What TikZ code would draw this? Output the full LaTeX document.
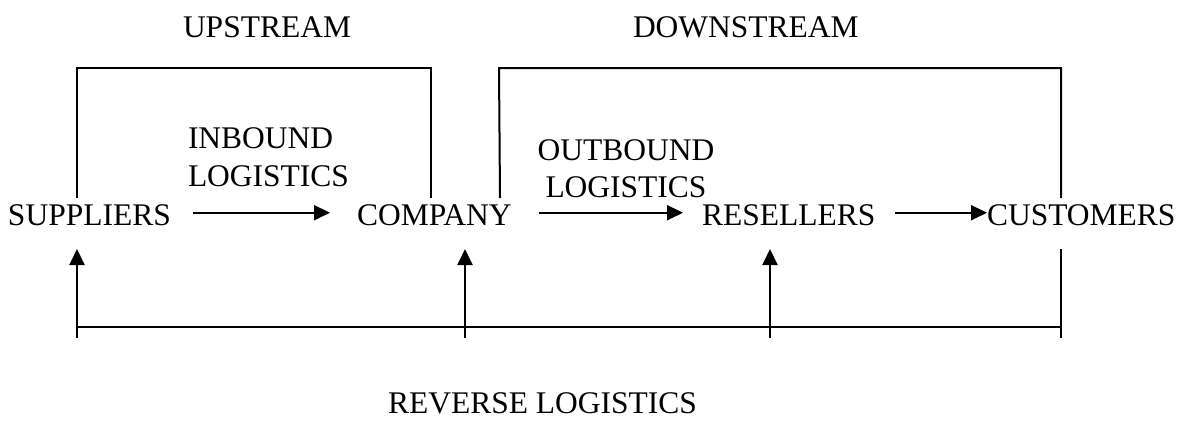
\documentclass[tikz,border=0pt]{standalone}
\usepackage{fontspec}
\setmainfont{Liberation Serif}
\usetikzlibrary{arrows.meta}
\begin{document}
\begin{tikzpicture}[x=1pt,y=-1pt,
  lbl/.style={inner sep=0pt,outer sep=0pt,font=\fontsize{31.5}{37}\selectfont},
  frame/.style={line width=2pt},
  flow/.style={line width=2pt,-{Triangle[length=16pt,width=15pt]}}]
\useasboundingbox (0,0) rectangle (1181,421);

% headings
\node[lbl,anchor=base west] (up) at (183,37) {UPSTREAM};
\node[lbl,anchor=base west] (down) at (633,37) {DOWNSTREAM};

% chain members
\node[lbl,anchor=base west] (sup) at (8,225) {SUPPLIERS};
\node[lbl,anchor=base west] (com) at (357,225) {COMPANY};
\node[lbl,anchor=base west] (res) at (702,225) {RESELLERS};
\node[lbl,anchor=base west] (cus) at (987,225) {CUSTOMERS};

% flow labels
\node[lbl,anchor=base west] (in1) at (188,148) {INBOUND};
\node[lbl,anchor=base west] (in2) at (188,186) {LOGISTICS};
\node[lbl,anchor=base] (out1) at (626,160) {OUTBOUND};
\node[lbl,anchor=base] (out2) at (626,197) {LOGISTICS};
\node[lbl,anchor=base west] (rev) at (388,413) {REVERSE LOGISTICS};

% forward flows
\draw[flow] ([xshift=22pt,yshift=2pt]sup.east) -- ([xshift=-27pt,yshift=2pt]com.west);
\draw[flow] ([xshift=27pt,yshift=2pt]com.east) -- ([xshift=-19pt,yshift=2pt]res.west);
\draw[flow] ([xshift=20pt,yshift=2pt]res.east) -- ([yshift=2pt]cus.west);

% upstream / downstream brackets
\coordinate (ua) at (77,198);
\coordinate (ub) at (77,68);
\coordinate (uc) at (431,68);
\coordinate (ud) at (431,198);
\draw[frame] (ua) -- (ub) -- (uc) -- (ud);
\coordinate (da) at (500,198);
\coordinate (db) at (499,68);
\coordinate (dc) at (1061,68);
\coordinate (dd) at (1061,198);
\draw[frame] (da) -- (db) -- (dc) -- (dd);

% reverse logistics return line
\coordinate (b1) at (77,338);
\coordinate (b2) at (465,338);
\coordinate (b3) at (770,338);
\coordinate (b4) at (1061,338);
\coordinate (t1) at (77,249);
\coordinate (t2) at (465,249);
\coordinate (t3) at (770,249);
\coordinate (t4) at (1061,249);
\draw[frame] (77,327) coordinate (h1) -- (1061,327) coordinate (h2);
\draw[flow] (b1) -- (t1);
\draw[flow] (b2) -- (t2);
\draw[flow] (b3) -- (t3);
\draw[frame] (b4) -- (t4);
\end{tikzpicture}
\end{document}
